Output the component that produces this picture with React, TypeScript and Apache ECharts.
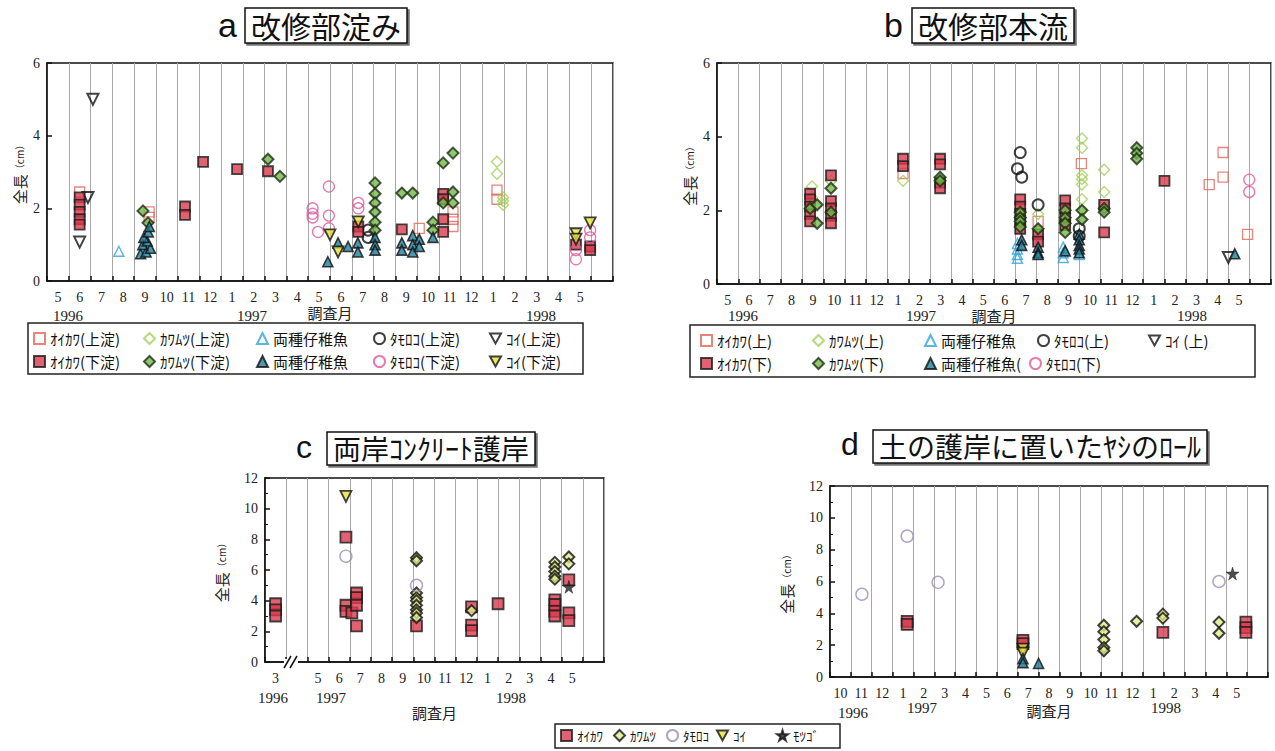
import React, { useEffect, useRef } from 'react';
import * as echarts from 'echarts';

// ---------- categories (month tick labels) ----------
const AB_MONTHS = ['5','6','7','8','9','10','11','12','1','2','3','4','5','6','7','8','9','10','11','12','1','2','3','4','5',''];
const C_MONTHS = ['3','','5','6','7','8','9','10','11','12','1','2','3','4','5',''];
const D_MONTHS = ['10','11','12','1','2','3','4','5','6','7','8','9','10','11','12','1','2','3','4','5',''];
const Y_TICKS_AB = [0, 6, 2];
const Y_TICKS_CD = [0, 12, 2];

// ---------- data: [month position on axis, total length cm] ----------
// a 改修部淀み
const A_OIKAWA_UP = [[1.5,2.45],[4.69,1.9],[4.69,1.75],[17.1,1.45],[18.65,1.9],[18.65,1.7],[18.65,1.5],[20.67,2.5],[20.67,2.25]];
const A_OIKAWA_DN = [[1.5,2.3],[1.5,2.1],[1.5,1.9],[1.5,1.7],[1.5,1.55],[6.34,2.05],[6.34,1.82],[7.17,3.28],[8.73,3.08],[10.15,3.02],[14.3,1.5],[14.3,1.35],[16.3,1.42],[18.2,2.4],[18.2,2.25],[18.2,1.7],[18.2,1.35],[24.3,1.0],[24.95,0.95],[24.95,0.85]];
const A_KAWAMUTSU_UP = [[20.67,3.28],[20.67,2.95],[20.95,2.3],[20.95,2.2],[20.95,2.1]];
const A_KAWAMUTSU_DN = [[4.41,1.93],[4.64,1.6],[10.15,3.35],[10.7,2.88],[15.07,2.7],[15.07,2.4],[15.07,2.15],[15.07,1.9],[15.07,1.62],[15.07,1.4],[16.3,2.42],[16.8,2.42],[17.73,1.62],[17.73,1.4],[18.2,3.25],[18.2,2.15],[18.65,3.52],[18.65,2.45],[18.65,2.15]];
const A_JUV_UP = [[3.3,0.82]];
const A_JUV_DN = [[4.3,0.75],[4.55,0.8],[4.75,0.9],[4.4,1.0],[4.6,1.1],[4.45,1.2],[4.65,1.35],[4.7,1.5],[12.9,0.53],[13.37,1.05],[13.83,0.95],[14.28,1.05],[14.28,0.8],[15.07,1.2],[15.07,1.0],[15.07,0.85],[16.3,1.05],[16.3,0.85],[16.8,1.25],[16.8,1.0],[16.8,0.8],[17.1,1.15],[17.1,0.95],[17.73,1.2]];
const A_TAMOROKO_UP = [[14.75,1.4],[14.75,1.2]];
const A_TAMOROKO_DN = [[12.2,2.0],[12.2,1.85],[12.2,1.75],[12.45,1.35],[12.95,2.6],[12.95,1.8],[12.95,1.45],[14.3,2.15],[14.3,2.0],[24.3,0.6],[24.3,0.85],[24.95,1.4],[24.95,1.2]];
const A_KOI_UP = [[2.11,5.0],[1.88,2.3],[1.5,1.07]];
const A_KOI_DN = [[13.0,1.27],[13.37,0.8],[14.3,1.63],[24.3,1.3],[24.3,1.15],[24.95,1.6]];

// b 改修部本流
const B_OIKAWA_UP = [[8.73,3.0],[15.07,1.7],[17.1,3.27],[23.1,2.7],[23.75,3.57],[23.75,2.9],[24.9,1.35]];
const B_OIKAWA_DN = [[4.37,2.45],[4.37,2.3],[4.37,2.1],[4.37,1.9],[4.37,1.7],[5.35,2.95],[5.35,2.25],[5.35,2.05],[5.35,1.85],[5.35,1.65],[8.73,3.4],[8.73,3.2],[10.47,3.4],[10.47,3.25],[10.47,2.75],[10.47,2.6],[14.23,2.3],[14.23,2.1],[14.23,1.9],[14.23,1.7],[14.23,1.5],[15.07,1.35],[15.07,1.15],[16.34,2.27],[16.34,2.05],[16.34,1.8],[16.34,1.6],[18.17,2.15],[18.17,1.4],[21.0,2.8]];
const B_KAWAMUTSU_UP = [[4.46,2.65],[4.46,2.35],[5.35,2.8],[8.73,2.8],[14.23,2.0],[15.07,1.9],[17.13,3.95],[17.13,3.7],[17.13,2.95],[17.13,2.85],[17.13,2.7],[17.13,2.3],[17.13,2.0],[18.17,3.1],[18.17,2.5]];
const B_KAWAMUTSU_DN = [[4.37,2.05],[4.7,2.15],[4.7,1.65],[5.35,2.6],[5.35,1.95],[10.47,2.9],[10.47,2.8],[14.23,1.95],[14.23,1.8],[14.23,1.7],[14.23,1.55],[15.07,1.5],[16.34,2.0],[16.34,1.8],[16.34,1.65],[16.34,1.4],[17.13,2.0],[17.13,1.75],[18.17,2.05],[18.17,1.95],[19.7,3.7],[19.7,3.55],[19.7,3.4]];
const B_JUV_UP = [[14.1,1.1],[14.1,0.95],[14.1,0.8],[14.1,0.7],[16.25,1.0],[16.25,0.85],[16.25,0.72],[17.0,0.8]];
const B_JUV_DN = [[14.3,1.2],[14.3,1.05],[15.07,1.0],[15.07,0.85],[15.07,0.8],[16.34,0.9],[17.0,1.35],[17.0,1.2],[17.0,1.05],[17.0,0.95],[17.0,0.85],[24.3,0.82]];
const B_TAMOROKO_UP = [[14.23,3.57],[14.1,3.13],[14.3,2.9],[15.07,2.15],[17.0,1.5],[17.0,1.3]];
const B_TAMOROKO_DN = [[24.98,2.83],[24.98,2.5]];
const B_KOI_UP = [[24.0,0.72]];

// c 両岸コンクリート護岸
const C_OIKAWA = [[0.5,3.8],[0.5,3.4],[0.5,3.0],[3.82,8.15],[3.82,3.7],[3.82,3.3],[4.1,3.2],[4.32,4.5],[4.32,4.2],[4.32,3.7],[4.32,2.35],[7.15,2.35],[9.75,3.6],[9.75,2.4],[9.75,2.05],[11.0,3.8],[13.68,4.05],[13.68,3.75],[13.68,3.3],[13.68,3.0],[14.34,5.35],[14.34,3.2],[14.34,2.7]];
const C_KAWAMUTSU = [[7.15,6.8],[7.15,6.6],[7.15,4.5],[7.15,4.2],[7.15,4.0],[7.15,3.7],[7.15,3.4],[7.15,3.2],[7.15,2.9],[9.75,3.35],[13.68,6.5],[13.68,6.2],[13.68,5.9],[13.68,5.6],[13.68,5.4],[14.34,6.85],[14.34,6.4]];
const C_TAMOROKO = [[3.82,6.9],[7.15,5.0]];
const C_KOI = [[3.82,10.8]];
const C_MOTSUGO = [[14.34,4.9]];

// d 土の護岸に置いたヤシのロール
const D_OIKAWA = [[3.7,3.5],[3.7,3.3],[9.25,2.3],[9.25,2.1],[15.96,2.8],[19.94,3.45],[19.94,3.1],[19.94,2.8]];
const D_KAWAMUTSU = [[13.13,3.25],[13.13,2.85],[13.13,2.35],[13.13,1.85],[13.13,1.65],[14.7,3.5],[15.96,3.95],[15.96,3.7],[18.65,3.45],[18.65,2.75]];
const D_TAMOROKO = [[1.53,5.2],[3.7,8.85],[5.18,5.95],[18.65,6.0]];
const D_KOI = [[9.25,1.75],[9.25,1.5]];
const D_JUV = [[9.25,1.15],[9.25,0.9],[10.0,0.85]];
const D_MOTSUGO = [[19.3,6.5]];

// ---------- styles ----------
const DTRI = 'path://M0,0L20,0L10,18Z';
const STAR = 'path://M50,0L61,35L98,35L68,57L79,91L50,70L21,91L32,57L2,35L39,35Z';
const NONE = 'rgba(255,255,255,0)';
const ST: Record<string, any> = {
  oikawaUp: { symbol: 'rect', size: 10, itemStyle: { color: NONE, borderColor: '#e2665a', borderWidth: 1.3 } },
  oikawaDn: { symbol: 'rect', size: 10, itemStyle: { color: '#d8394b', borderColor: '#1a1a1a', borderWidth: 1.8 } },
  kawaUp: { symbol: 'diamond', size: 11, itemStyle: { color: NONE, borderColor: '#a4d05a', borderWidth: 1.4 } },
  kawaDn: { symbol: 'diamond', size: 11, itemStyle: { color: '#74b84a', borderColor: '#1c2e14', borderWidth: 2 } },
  juvUp: { symbol: 'triangle', size: 10, itemStyle: { color: NONE, borderColor: '#2ea4d8', borderWidth: 1.4 } },
  juvDn: { symbol: 'triangle', size: 10, itemStyle: { color: '#1f7e9a', borderColor: '#111', borderWidth: 1.6 } },
  tamoUp: { symbol: 'circle', size: 11, itemStyle: { color: NONE, borderColor: '#111', borderWidth: 2 } },
  tamoDn: { symbol: 'circle', size: 11, itemStyle: { color: NONE, borderColor: '#e0579a', borderWidth: 1.3 } },
  koiUp: { symbol: DTRI, size: 11, itemStyle: { color: NONE, borderColor: '#111', borderWidth: 2 } },
  koiDn: { symbol: DTRI, size: 11, itemStyle: { color: '#e6e23c', borderColor: '#111', borderWidth: 1.8 } },
  cOikawa: { symbol: 'rect', size: 11, itemStyle: { color: '#d8394b', borderColor: '#1a1a1a', borderWidth: 1.8 } },
  cKawa: { symbol: 'diamond', size: 11, itemStyle: { color: '#e2ec8a', borderColor: '#111', borderWidth: 2 } },
  cTamo: { symbol: 'circle', size: 12, itemStyle: { color: NONE, borderColor: '#9a8cb0', borderWidth: 1.4 } },
  cKoi: { symbol: DTRI, size: 11, itemStyle: { color: '#e6e23c', borderColor: '#111', borderWidth: 1.8 } },
  cMotsugo: { symbol: STAR, size: 13, itemStyle: { color: '#222', borderColor: '#111', borderWidth: 0.5 } },
  dJuv: { symbol: 'triangle', size: 10, itemStyle: { color: '#1f7e9a', borderColor: '#111', borderWidth: 1.6 } },
};

// [series name, panel index, data, style key]
const SERIES_DEF: [string, number, number[][], string][] = [
  ['a|ｵｲｶﾜ(上淀)', 0, A_OIKAWA_UP, 'oikawaUp'],
  ['a|ｶﾜﾑﾂ(上淀)', 0, A_KAWAMUTSU_UP, 'kawaUp'],
  ['a1|両種仔稚魚', 0, A_JUV_UP, 'juvUp'],
  ['a|ﾀﾓﾛｺ(上淀)', 0, A_TAMOROKO_UP, 'tamoUp'],
  ['a|ｺｲ(上淀)', 0, A_KOI_UP, 'koiUp'],
  ['a|ｵｲｶﾜ(下淀)', 0, A_OIKAWA_DN, 'oikawaDn'],
  ['a|ｶﾜﾑﾂ(下淀)', 0, A_KAWAMUTSU_DN, 'kawaDn'],
  ['a2|両種仔稚魚', 0, A_JUV_DN, 'juvDn'],
  ['a|ﾀﾓﾛｺ(下淀)', 0, A_TAMOROKO_DN, 'tamoDn'],
  ['a|ｺｲ(下淀)', 0, A_KOI_DN, 'koiDn'],
  ['b|ｵｲｶﾜ(上)', 1, B_OIKAWA_UP, 'oikawaUp'],
  ['b|ｶﾜﾑﾂ(上)', 1, B_KAWAMUTSU_UP, 'kawaUp'],
  ['b1|両種仔稚魚', 1, B_JUV_UP, 'juvUp'],
  ['b|ﾀﾓﾛｺ(上)', 1, B_TAMOROKO_UP, 'tamoUp'],
  ['b|ｺｲ (上)', 1, B_KOI_UP, 'koiUp'],
  ['b|ｵｲｶﾜ(下)', 1, B_OIKAWA_DN, 'oikawaDn'],
  ['b|ｶﾜﾑﾂ(下)', 1, B_KAWAMUTSU_DN, 'kawaDn'],
  ['b2|両種仔稚魚(', 1, B_JUV_DN, 'juvDn'],
  ['b|ﾀﾓﾛｺ(下)', 1, B_TAMOROKO_DN, 'tamoDn'],
  ['c|ｵｲｶﾜ', 2, C_OIKAWA, 'cOikawa'],
  ['c|ｶﾜﾑﾂ', 2, C_KAWAMUTSU, 'cKawa'],
  ['c|ﾀﾓﾛｺ', 2, C_TAMOROKO, 'cTamo'],
  ['c|ｺｲ', 2, C_KOI, 'cKoi'],
  ['c|ﾓﾂｺﾞ', 2, C_MOTSUGO, 'cMotsugo'],
  ['d|ｵｲｶﾜ', 3, D_OIKAWA, 'cOikawa'],
  ['d|ｶﾜﾑﾂ', 3, D_KAWAMUTSU, 'cKawa'],
  ['d|ﾀﾓﾛｺ', 3, D_TAMOROKO, 'cTamo'],
  ['d|ｺｲ', 3, D_KOI, 'cKoi'],
  ['d|両種仔稚魚', 3, D_JUV, 'dJuv'],
  ['d|ﾓﾂｺﾞ', 3, D_MOTSUGO, 'cMotsugo'],
];

// legend items: [series name, left, top, fontSize]
const LEGEND_ITEMS: [string, number, number, number][] = [
  ['a|ｵｲｶﾜ(上淀)', 33, 331, 15], ['a|ｶﾜﾑﾂ(上淀)', 143, 331, 15], ['a1|両種仔稚魚', 256, 331, 15], ['a|ﾀﾓﾛｺ(上淀)', 373, 331, 15], ['a|ｺｲ(上淀)', 489, 331, 15],
  ['a|ｵｲｶﾜ(下淀)', 33, 354, 15], ['a|ｶﾜﾑﾂ(下淀)', 143, 354, 15], ['a2|両種仔稚魚', 256, 354, 15], ['a|ﾀﾓﾛｺ(下淀)', 373, 354, 15], ['a|ｺｲ(下淀)', 489, 354, 15],
  ['b|ｵｲｶﾜ(上)', 700, 333, 15], ['b|ｶﾜﾑﾂ(上)', 812, 333, 15], ['b1|両種仔稚魚', 924, 333, 15], ['b|ﾀﾓﾛｺ(上)', 1037, 333, 15], ['b|ｺｲ (上)', 1148, 333, 15],
  ['b|ｵｲｶﾜ(下)', 700, 356, 15], ['b|ｶﾜﾑﾂ(下)', 812, 356, 15], ['b2|両種仔稚魚(', 924, 356, 15], ['b|ﾀﾓﾛｺ(下)', 1029, 356, 15],
  ['c|ｵｲｶﾜ', 560, 729, 13], ['c|ｶﾜﾑﾂ', 613, 729, 13], ['c|ﾀﾓﾛｺ', 666, 729, 13], ['c|ｺｲ', 716, 729, 13], ['c|ﾓﾂｺﾞ', 776, 729, 13],
];

// panel layout
const GRIDS = [
  { left: 47, top: 63, width: 566, height: 218 },
  { left: 717, top: 63, width: 554, height: 221 },
  { left: 265, top: 478, width: 339, height: 184 },
  { left: 830, top: 486, width: 438, height: 191 },
];
const PANEL_CATS = [AB_MONTHS, AB_MONTHS, C_MONTHS, D_MONTHS];
const PANEL_Y = [Y_TICKS_AB, Y_TICKS_AB, Y_TICKS_CD, Y_TICKS_CD];
const NAME_GAP_X = [24, 24, 43, 26];
const NAME_GAP_Y = [20, 20, 36, 36];

const YEAR_LABELS: [string, number, number][] = [
  ['1996', 68, 316], ['1997', 252, 316], ['1998', 541, 316],
  ['1996', 743, 316], ['1997', 921, 316], ['1998', 1192, 316],
  ['1996', 273, 698], ['1997', 331, 698], ['1998', 511, 698],
  ['1996', 853, 713], ['1997', 922, 708], ['1998', 1166, 708],
];

const TITLES: [string, string, number, number, number, number, number][] = [
  // letter, boxed text, letterLeft, boxLeft, top, fontSize, letterTop
  ['a', '改修部淀み', 218, 245, 8, 30, 8],
  ['b', '改修部本流', 884, 912, 8, 30, 8],
  ['c', '両岸ｺﾝｸﾘｰﾄ護岸', 296, 327, 432, 28, 431],
  ['d', '土の護岸に置いたﾔｼのﾛｰﾙ', 841, 873, 430, 28, 428],
];

const SERIF = "'Liberation Serif', 'DejaVu Serif', serif";
const JP = "'Noto Sans CJK JP', sans-serif";

export default function App() {
  const ref = useRef<HTMLDivElement>(null);
  useEffect(() => {
    document.body.style.margin = '0';
    if (!ref.current) return;
    const chart = echarts.init(ref.current, undefined, { renderer: 'svg' });
    const fmt = (n: string) => n.slice(n.indexOf('|') + 1);

    const xAxis: any[] = [];
    const yAxis: any[] = [];
    GRIDS.forEach((_, p) => {
      const cats = PANEL_CATS[p];
      xAxis.push({
        type: 'category', gridIndex: p, data: cats, boundaryGap: true,
        name: '調査月', nameLocation: 'middle', nameGap: NAME_GAP_X[p],
        nameTextStyle: { fontFamily: JP, fontSize: 15, color: '#222' },
        axisLine: { lineStyle: { color: '#111', width: 1.5 } },
        axisTick: { show: true, inside: true, length: 5, interval: 0, lineStyle: { color: '#111', width: 1.5 } },
        axisLabel: { interval: 0, margin: 9, fontFamily: SERIF, fontSize: 14, color: '#222' },
        splitLine: { show: true, interval: 0, lineStyle: { color: '#a8a8a8', width: 1 } },
      });
      xAxis.push({ type: 'value', gridIndex: p, min: 0, max: cats.length, show: false });
      const [mn, mx, iv] = PANEL_Y[p];
      yAxis.push({
        type: 'value', gridIndex: p, min: mn, max: mx, interval: iv,
        name: '全長{s|（cm）}', nameLocation: 'middle', nameGap: NAME_GAP_Y[p], nameRotate: 90,
        nameTextStyle: { fontFamily: JP, fontSize: 15, color: '#222', rich: { s: { fontSize: 10, fontFamily: JP, color: '#222' } } },
        axisLine: { show: true, lineStyle: { color: '#111', width: 1.5 } },
        axisTick: { show: true, inside: true, length: 5, lineStyle: { color: '#111', width: 1.5 } },
        minorTick: { show: p >= 2, splitNumber: 2, length: 3, lineStyle: { color: '#111' } },
        axisLabel: { margin: 7, fontFamily: SERIF, fontSize: 14, color: '#222' },
        splitLine: { show: false },
      });
    });

    const series = SERIES_DEF.map(([name, p, data, sk]) => {
      const s = ST[sk];
      return {
        type: 'scatter', name, xAxisIndex: p * 2 + 1, yAxisIndex: p, data,
        symbol: s.symbol, symbolSize: s.size, itemStyle: s.itemStyle,
      };
    });

    const legend = LEGEND_ITEMS.map(([name, left, top, fs]) => ({
      left, top, padding: 0, itemGap: 0, itemWidth: 11, itemHeight: 11,
      selectedMode: false, data: [name], formatter: fmt,
      textStyle: { fontFamily: JP, fontSize: fs, color: '#111' },
    }));

    const title: any[] = [];
    TITLES.forEach(([letter, text, ll, bl, top, fs, lt]) => {
      title.push({ text: letter, left: ll, top: lt, padding: 0, textStyle: { fontFamily: "'Liberation Sans', Arial, sans-serif", fontSize: fs + 4, fontWeight: 'normal', color: '#111' } });
      title.push({
        text, left: bl, top, padding: [2, 6, 3, 6], borderColor: '#111', borderWidth: 1.5,
        backgroundColor: '#fff', shadowColor: 'rgba(0,0,0,0.55)', shadowOffsetX: 2, shadowOffsetY: 2, shadowBlur: 1,
        textStyle: { fontFamily: JP, fontSize: fs, fontWeight: 'normal', color: '#111' },
      });
    });

    const graphic: any[] = [
      { type: 'rect', shape: { x: 28, y: 323, width: 555, height: 51 }, style: { fill: 'none', stroke: '#222', lineWidth: 1.5 }, silent: true },
      { type: 'rect', shape: { x: 690, y: 325, width: 565, height: 52 }, style: { fill: 'none', stroke: '#222', lineWidth: 1.5 }, silent: true },
      { type: 'rect', shape: { x: 555, y: 724, width: 285, height: 24 }, style: { fill: 'none', stroke: '#222', lineWidth: 1.5 }, silent: true },
      // axis break mark in panel c
      { type: 'rect', shape: { x: 284, y: 659, width: 14, height: 6 }, style: { fill: '#fff' }, z: 100 },
      { type: 'line', shape: { x1: 284, y1: 668, x2: 291, y2: 656 }, style: { stroke: '#111', lineWidth: 1.5 }, z: 101 },
      { type: 'line', shape: { x1: 290, y1: 668, x2: 297, y2: 656 }, style: { stroke: '#111', lineWidth: 1.5 }, z: 101 },
      ...YEAR_LABELS.map(([t, x, y]) => ({
        type: 'text', x, y, style: { text: t, fontFamily: SERIF, fontSize: 15, fill: '#222', align: 'center', verticalAlign: 'middle' },
      })),
    ];

    chart.setOption({
      animation: false,
      backgroundColor: '#fff',
      title,
      grid: GRIDS.map((g) => ({ ...g, show: true, borderColor: '#111', borderWidth: 1.5, backgroundColor: 'transparent', containLabel: false, outerBoundsMode: 'none' })),
      xAxis, yAxis, series, legend, graphic,
    });
    return () => chart.dispose();
  }, []);
  return <div ref={ref} style={{ width: 1275, height: 751 }} />;
}
